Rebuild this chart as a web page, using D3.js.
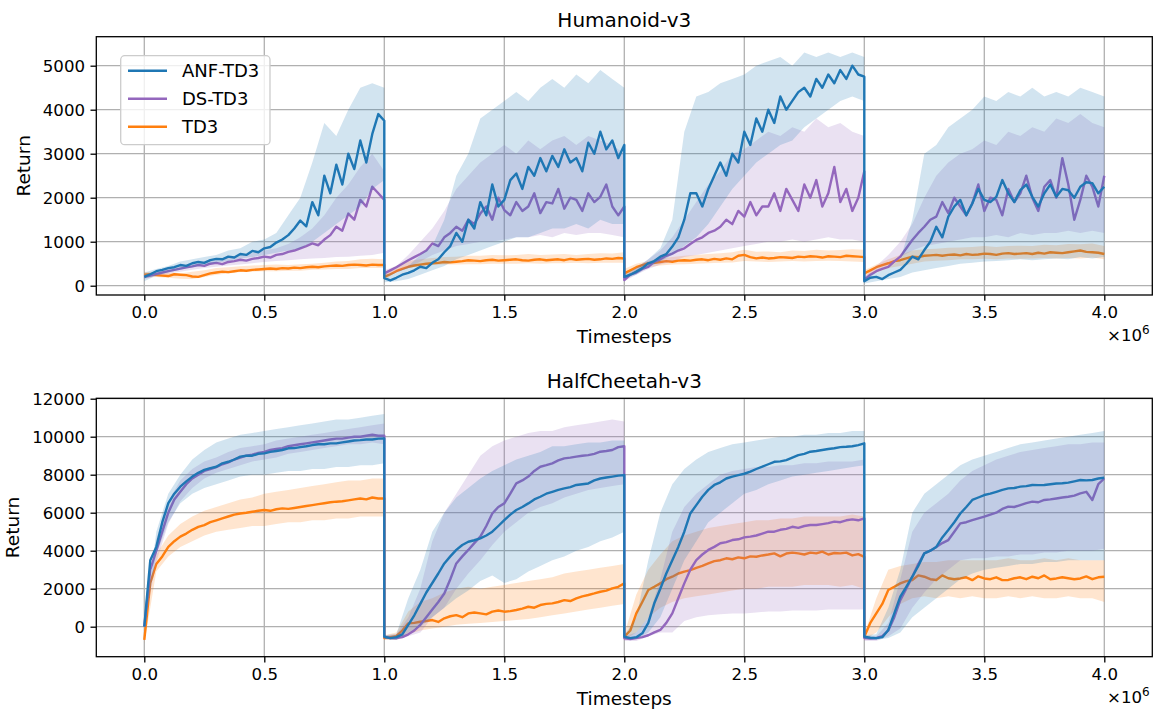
<!DOCTYPE html>
<html>
<head>
<meta charset="utf-8">
<script src="https://cdn.jsdelivr.net/npm/d3@7"></script>
<style>
  body { margin: 0; background: #fff; }
  svg text { font-family: "DejaVu Sans", sans-serif; fill: #000; }
</style>
</head>
<body>
<svg id="canvas"></svg>
<script>
const WIDTH = 1153, HEIGHT = 709;

// x runs k .. k+1 inside each of the 4 segments (units of 1e6 timesteps)
const segments = [0, 1, 2, 3];
const xTicks = [0, 0.5, 1, 1.5, 2, 2.5, 3, 3.5, 4];
const legendNames = ['ANF-TD3', 'DS-TD3', 'TD3'];
const colors = ['#1f77b4', '#9467bd', '#ff7f0e'];

// ---- Humanoid-v3 (means: 41 pts per segment, bands: 21 pts per segment)
const humTicks = [0, 1000, 2000, 3000, 4000, 5000];
const humANF = [
	[200,260,330,360,400,420,470,450,510,540,520,580,610,600,660,640,720,700,790,760,850,880,980,1050,1150,1300,1480,1350,1900,1600,2500,2100,2750,2300,3000,2650,3300,2800,3450,3900,3750],
	[170,120,180,250,290,350,430,400,520,600,760,900,1200,1000,1500,1300,1900,1600,2300,1800,1950,2400,2550,2200,2700,2500,2900,2600,2950,2700,3100,2800,2900,2600,3250,3000,3500,3100,3300,2900,3200],
	[200,250,320,400,510,560,660,720,890,1100,1500,2100,2100,1800,2200,2500,2800,2500,3000,2800,3500,3200,3800,3500,4000,3700,4300,4000,4200,4400,4500,4300,4700,4500,4800,4600,4900,4700,5000,4800,4750],
	[100,180,200,150,240,300,360,500,660,600,810,1000,1340,1100,1570,1800,1950,1600,1870,2200,1950,1900,2020,2400,2100,1900,2170,2300,2020,1800,2100,2300,2020,2200,2170,2000,2250,2350,2330,2100,2250]
];
const humDS = [
	[200,230,270,300,330,360,390,420,440,470,450,500,520,490,540,560,590,570,610,630,660,640,700,720,770,800,850,900,960,920,1050,1150,1340,1250,1640,1500,1950,1800,2250,2100,1950],
	[280,350,420,500,580,650,720,800,960,900,1100,1200,1340,1250,1500,1400,1640,1800,1500,2000,1720,1600,1900,1700,1800,2100,1650,1900,1870,2200,1750,2000,1950,1700,2100,1900,2020,2300,1800,1600,1800],
	[130,250,300,380,430,550,600,680,730,800,850,950,1040,1100,1200,1250,1340,1500,1400,1700,1570,1900,1600,1800,1800,2100,1700,2200,1950,1700,2300,2000,2400,1800,2100,2700,1900,2200,1700,2000,2600],
	[130,250,330,380,430,550,660,850,1040,1200,1340,1500,1570,1900,1650,2000,1800,1600,1870,2300,1700,2000,1950,1600,2200,1900,2100,2500,2000,1700,2250,2400,2000,2900,2300,1500,1950,2500,2250,1800,2500]
];
const humTD3 = [
	[250,260,240,230,220,260,250,240,210,200,240,280,300,320,310,330,350,340,360,370,380,390,380,400,390,410,400,420,430,420,440,450,460,450,470,480,470,460,480,470,470],
	[200,260,330,380,430,460,480,500,510,520,540,530,545,560,580,570,560,580,590,570,580,590,600,580,570,590,600,580,590,600,580,610,590,600,610,590,600,620,610,630,620],
	[280,350,420,470,510,520,540,560,545,570,580,570,590,600,580,610,590,620,600,680,700,650,620,640,620,630,650,640,630,660,650,670,660,640,670,660,650,680,670,660,650],
	[280,350,420,470,510,560,580,620,660,650,680,690,700,680,700,710,690,720,700,710,730,720,700,730,740,720,730,740,720,750,730,760,750,740,760,780,800,770,760,750,720]
];
const humANFLo = [
	[100,230,300,360,420,470,520,560,620,650,700,750,800,850,1000,1200,1400,1600,1800,2200,2400],
	[80,100,150,250,350,450,600,700,800,900,1000,1100,1100,1200,1300,1300,1400,1300,1500,1400,1400],
	[150,250,420,550,700,900,1100,1400,1800,2200,2500,2800,3000,3200,3300,3600,3800,4000,4200,4300,4200],
	[50,100,150,200,300,350,400,450,500,520,550,560,580,600,580,600,620,600,650,620,650]
];
const humANFHi = [
	[300,380,450,550,600,650,700,800,850,1000,1050,1200,1600,2000,2800,3700,3400,4000,4500,4600,4500],
	[250,300,450,700,900,1500,2500,3000,3800,4000,4200,4400,4200,4500,4700,4500,4800,4600,4900,4700,4500],
	[250,400,600,850,1500,3500,4300,4400,4600,4700,4800,5000,5100,5200,5000,5300,5200,5300,5200,5300,5200],
	[200,300,400,600,1500,3000,3200,3600,3800,4000,4300,4200,4400,4300,4500,4300,4400,4300,4500,4400,4300]
];
const humDSLo = [
	[150,220,270,320,360,400,430,460,480,510,540,560,580,600,620,630,650,660,680,700,750],
	[200,300,400,550,700,800,900,950,1000,1000,1050,1100,1100,1150,1100,1200,1150,1200,1200,1150,1100],
	[100,250,380,480,550,650,700,750,800,850,900,950,1000,1000,1050,1000,1050,1100,1050,1050,1000],
	[80,300,450,650,800,900,950,1000,1050,1100,1100,1150,1100,1200,1150,1200,1200,1250,1200,1250,1200]
];
const humDSHi = [
	[250,330,380,450,500,560,600,640,700,740,800,850,950,1100,1300,1600,2000,2300,2700,3000,2600],
	[350,450,700,1000,1300,1700,2200,2500,2800,3000,3200,3000,3300,3100,3300,3400,3200,3400,3300,3200,3000],
	[200,400,600,800,1100,1500,1900,2300,2600,3000,3100,3300,3500,3400,3600,3500,3800,3600,3700,3500,3400],
	[200,450,700,1000,1400,2000,2500,2800,3000,3100,3300,3200,3500,3400,3600,3500,3800,3700,3900,3700,3600]
];
const humTD3Lo = [
	[180,200,180,160,150,200,250,280,310,320,330,330,340,340,360,370,380,380,400,400,400],
	[120,320,400,450,470,480,480,490,490,500,500,500,510,500,510,510,520,510,520,520,520],
	[200,320,420,460,480,490,500,510,520,530,560,550,540,550,560,550,560,570,560,550,540],
	[200,300,400,450,500,550,570,580,600,600,610,600,620,610,620,630,620,630,620,640,600]
];
const humTD3Hi = [
	[320,300,300,280,320,350,400,420,440,460,470,480,470,490,500,520,550,560,600,610,600],
	[300,450,560,600,630,650,660,680,680,700,690,700,720,700,710,720,700,720,740,730,760],
	[380,500,560,620,650,680,700,720,740,760,820,770,780,760,800,790,820,800,810,830,820],
	[350,480,600,700,800,830,840,860,870,880,900,880,900,910,900,930,920,950,940,960,900]
];

// ---- HalfCheetah-v3
const hcTicks = [0, 2000, 4000, 6000, 8000, 10000, 12000];
const hcANF = [
	[0,3500,4200,5500,6500,7000,7370,7650,7900,8100,8250,8350,8420,8600,8680,8800,8950,9000,9000,9100,9120,9200,9250,9300,9390,9400,9450,9500,9560,9600,9600,9650,9650,9700,9750,9800,9820,9850,9850,9900,9910],
	[-530,-600,-550,-400,100,600,1200,1800,2300,2800,3330,3700,4040,4300,4470,4550,4650,4800,5000,5300,5610,5900,6140,6300,6490,6700,6840,7000,7100,7200,7280,7350,7460,7500,7540,7700,7800,7850,7900,7950,7980],
	[-530,-600,-550,-350,200,1230,2000,2800,3500,4200,5000,5960,6400,6840,7200,7460,7600,7800,7900,7980,8050,8160,8300,8420,8550,8680,8700,8770,8900,9030,9100,9210,9250,9300,9350,9390,9450,9470,9500,9560,9650],
	[-530,-580,-600,-550,-170,700,1580,2100,2630,3200,3860,4000,4200,4700,5090,5500,5960,6300,6670,6800,6930,7000,7100,7200,7280,7300,7370,7400,7460,7450,7460,7500,7540,7550,7580,7650,7720,7700,7720,7800,7840]
];
const hcDS = [
	[0,3000,4000,5000,6000,6700,7100,7500,7800,8000,8200,8300,8400,8550,8650,8800,8900,9000,9050,9150,9200,9300,9350,9400,9500,9550,9600,9650,9700,9750,9800,9850,9900,9900,9950,10000,10000,10050,10100,10050,10050],
	[-530,-600,-600,-550,-400,-200,100,500,900,1300,1750,2500,3330,3700,4040,4400,4740,5300,5960,6300,6490,7000,7540,7700,7900,8200,8420,8500,8600,8750,8860,8900,8950,9000,9030,9100,9210,9250,9300,9450,9500],
	[-610,-650,-600,-550,-450,-300,-170,200,700,1500,2280,3000,3510,3800,4040,4200,4390,4450,4560,4600,4700,4740,4800,4900,5000,5000,5100,5150,5260,5200,5300,5350,5350,5400,5450,5530,5500,5600,5650,5600,5700],
	[-600,-620,-600,-500,-200,500,1400,2000,2630,3300,3860,4000,4200,4400,4560,5000,5440,5500,5610,5700,5790,5900,6000,6200,6320,6300,6400,6500,6580,6550,6670,6700,6750,6800,6840,6900,7020,7100,6670,7500,7800]
];
const hcTD3 = [
	[-700,2300,3300,3700,4200,4500,4740,4900,5100,5250,5350,5500,5600,5700,5800,5900,5960,6000,6050,6100,6140,6100,6180,6230,6200,6250,6300,6350,6400,6450,6500,6550,6580,6600,6650,6700,6750,6700,6800,6750,6750],
	[-600,-550,-500,-200,175,200,260,300,350,250,440,550,610,500,700,750,700,650,790,850,790,820,880,950,1050,1000,1140,1200,1230,1300,1400,1350,1490,1600,1670,1750,1840,1900,2020,2100,2280],
	[-530,-200,700,1300,1930,2100,2280,2500,2630,2800,2900,2980,3100,3200,3330,3450,3500,3600,3550,3650,3600,3700,3680,3750,3800,3860,3700,3850,3900,3860,3800,3900,3860,3950,3800,3880,3860,3900,3750,3820,3680],
	[-530,200,700,1200,1930,2100,2280,2400,2460,2700,2630,2500,2460,2700,2550,2500,2540,2600,2450,2650,2540,2500,2600,2450,2460,2550,2600,2500,2630,2550,2700,2500,2540,2600,2550,2500,2540,2650,2500,2600,2630]
];
const hcANFLo = [
	[0,3800,5500,6500,7000,7300,7500,7700,7900,8000,8000,8100,8200,8200,8300,8300,8400,8400,8500,8500,8600],
	[-650,-700,-300,0,500,1000,1500,1900,2400,2700,2300,2500,2900,3200,3500,3700,4000,4200,4500,4700,5000],
	[-650,-650,-300,500,2000,3500,4500,5500,6000,6500,7000,7200,7500,7700,7900,8000,8100,8200,8300,8400,8500],
	[-650,-700,-600,-300,500,1000,1500,2000,2500,2800,3000,3100,3200,3300,3300,3400,3400,3500,3500,3500,3500]
];
const hcANFHi = [
	[0,5000,7000,8000,8800,9300,9700,9900,10100,10200,10300,10400,10500,10600,10700,10800,10900,10900,11000,11100,11200],
	[-450,-400,1500,3000,5000,6000,6800,7300,7800,8200,8500,8800,9000,9200,9500,9500,9600,9700,9700,9800,9800],
	[-450,500,3500,6000,7500,8300,8800,9200,9400,9600,9700,9800,9900,10000,10000,10100,10100,10200,10200,10300,10300],
	[-450,-400,1000,3000,6000,7000,7500,8000,8500,8800,9000,9200,9400,9600,9700,9800,9900,10000,10100,10200,10300]
];
const hcDSLo = [
	[0,3400,5400,6600,7300,7800,8100,8300,8500,8700,8800,8900,9100,9200,9300,9400,9500,9600,9600,9700,9600],
	[-650,-700,-500,-300,500,1000,2000,2800,3500,4300,5000,5500,6000,6300,6500,6800,7000,7200,7300,7400,7500],
	[-750,-750,-500,-300,-300,300,500,600,650,700,700,750,800,800,850,850,850,900,900,900,900],
	[-750,-750,-500,-100,1000,1800,2500,3000,3500,3600,3600,3700,3700,3800,3800,3900,3900,4000,4000,4000,4100]
];
const hcDSHi = [
	[0,4600,6600,7700,8300,8700,8900,9200,9400,9500,9600,9800,9900,10000,10100,10200,10300,10400,10500,10600,10700],
	[-450,-400,500,2000,4500,6000,7000,8000,9000,9500,9800,10000,10200,10300,10300,10500,10600,10700,10800,10900,10800],
	[-500,-300,500,2500,5000,6300,7000,7500,8000,8200,8300,8400,8400,8500,8500,8600,8600,8700,8700,8700,8800],
	[-500,-500,200,2500,5000,6000,6500,7000,7700,8200,8500,8800,9000,9200,9300,9400,9500,9600,9600,9700,9700]
];
const hcTD3Lo = [
	[-900,2900,3700,4200,4500,4800,5000,5100,5200,5300,5300,5400,5500,5500,5600,5600,5700,5700,5800,5800,5800],
	[-700,-700,-400,-200,-100,0,100,150,200,250,300,350,400,500,600,700,800,900,1000,1100,1200],
	[-700,-300,500,1000,1300,1500,1600,1700,1800,1900,2000,2000,2100,2100,2100,2200,2200,2200,2100,2200,2000],
	[-700,-300,500,1200,1500,1600,1500,1600,1500,1600,1500,1500,1600,1500,1600,1500,1500,1600,1500,1500,1300]
];
const hcTD3Hi = [
	[-500,3800,4800,5400,5800,6100,6300,6500,6700,6800,7000,7100,7200,7300,7400,7500,7600,7700,7700,7800,7800],
	[-450,-300,800,1300,1500,1800,2000,2100,2000,2100,2200,2300,2400,2500,2600,2800,2900,3000,3100,3200,3300],
	[-400,1700,3000,3800,4500,4800,5000,5200,5300,5400,5500,5600,5600,5700,5700,5800,5800,5800,5800,5900,5800],
	[-400,1500,3000,3200,3300,3400,3400,3500,3500,3500,3500,3500,3600,3500,3500,3600,3500,3600,3500,3500,3500]
];

// flatten per-segment arrays into {x, v} points
function linePoints(segs) {
	const pts = [];
	segs.forEach((arr, s) => arr.forEach((v, i) => pts.push({ x: segments[s] + i / (arr.length - 1), v })));
	return pts;
}
function bandPoints(lo, hi) {
	const pts = [];
	lo.forEach((arr, s) => arr.forEach((v, i) => pts.push({ x: segments[s] + i / (arr.length - 1), lo: v, hi: hi[s][i] })));
	return pts;
}

const svg = d3.select('svg#canvas')
	.attr('width', WIDTH)
	.attr('height', HEIGHT);

const x = d3.scaleLinear().domain([-0.2, 4.2]);

function drawPanel(cfg) {
	const { top, bottom, left, right } = cfg;
	x.range([left, right]);
	const y = d3.scaleLinear().domain(cfg.yDomain).range([bottom, top]);
	const g = svg.append('g');
	const clipId = 'clip' + cfg.id;

	g.append('clipPath').attr('id', clipId)
		.append('rect').attr('x', left).attr('y', top).attr('width', right - left).attr('height', bottom - top);

	// grid
	g.append('g').selectAll('line.vg').data(xTicks).join('line')
		.attr('x1', d => x(d)).attr('x2', d => x(d))
		.attr('y1', top).attr('y2', bottom)
		.attr('stroke', '#b0b0b0').attr('stroke-width', 1.3);
	g.append('g').selectAll('line.hg').data(cfg.yTicks).join('line')
		.attr('x1', left).attr('x2', right)
		.attr('y1', d => y(d)).attr('y2', d => y(d))
		.attr('stroke', '#b0b0b0').attr('stroke-width', 1.3);

	const plot = g.append('g').attr('clip-path', `url(#${clipId})`);
	const area = d3.area().x(d => x(d.x)).y0(d => y(d.lo)).y1(d => y(d.hi));
	const line = d3.line().x(d => x(d.x)).y(d => y(d.v));

	// TD3 first, ANF last (on top)
	cfg.series.slice().reverse().forEach(s => {
		plot.append('path').datum(bandPoints(s.lo, s.hi))
			.attr('d', area).attr('fill', s.color).attr('fill-opacity', 0.2);
		plot.append('path').datum(linePoints(s.mean))
			.attr('d', line).attr('fill', 'none').attr('stroke', s.color)
			.attr('stroke-width', 2.4).attr('stroke-linejoin', 'round');
	});

	// axes
	const xAxis = d3.axisBottom(x).tickValues(xTicks).tickFormat(d3.format('.1f')).tickSizeOuter(0).tickSize(5.8).tickPadding(5.5);
	const yAxis = d3.axisLeft(y).tickValues(cfg.yTicks).tickFormat(d => d).tickSizeOuter(0).tickSize(5.8).tickPadding(5.5);
	const xg = g.append('g').attr('transform', `translate(0,${bottom})`).call(xAxis);
	const yg = g.append('g').attr('transform', `translate(${left},0)`).call(yAxis);
	[xg, yg].forEach(a => {
		a.select('.domain').remove();
		a.selectAll('.tick line').attr('stroke', '#000').attr('stroke-width', 1.3);
		a.selectAll('.tick text').attr('font-size', 16.6).attr('font-family', 'DejaVu Sans').attr('fill', '#000');
	});

	g.append('rect').attr('x', left).attr('y', top).attr('width', right - left).attr('height', bottom - top)
		.attr('fill', 'none').attr('stroke', '#000').attr('stroke-width', 1.3);

	g.append('text').attr('x', (left + right) / 2).attr('y', top - 10)
		.attr('text-anchor', 'middle').attr('font-size', 20).text(cfg.title);
	g.append('text').attr('x', (left + right) / 2).attr('y', bottom + 48)
		.attr('text-anchor', 'middle').attr('font-size', 18.5).text('Timesteps');
	g.append('text').attr('transform', `translate(${cfg.ylabelX},${(top + bottom) / 2}) rotate(-90)`)
		.attr('text-anchor', 'middle').attr('font-size', 18.5).text('Return');
	const off = g.append('text').attr('x', 1107).attr('y', bottom + 46).attr('font-size', 16.6);
	off.append('tspan').text('×10');
	off.append('tspan').attr('dy', -7).attr('font-size', 12).text('6');

	return g;
}

const humSeries = [
	{ color: colors[0], mean: humANF, lo: humANFLo, hi: humANFHi },
	{ color: colors[1], mean: humDS, lo: humDSLo, hi: humDSHi },
	{ color: colors[2], mean: humTD3, lo: humTD3Lo, hi: humTD3Hi }
];
const hcSeries = [
	{ color: colors[0], mean: hcANF, lo: hcANFLo, hi: hcANFHi },
	{ color: colors[1], mean: hcDS, lo: hcDSLo, hi: hcDSHi },
	{ color: colors[2], mean: hcTD3, lo: hcTD3Lo, hi: hcTD3Hi }
];

const topPanel = drawPanel({
	id: 'hum', title: 'Humanoid-v3', top: 36.7, bottom: 295, left: 96.3, right: 1152.3,
	yDomain: [-211, 5659], yTicks: humTicks, series: humSeries, ylabelX: 30
});
drawPanel({
	id: 'hc', title: 'HalfCheetah-v3', top: 398.3, bottom: 656.7, left: 96.3, right: 1152.3,
	yDomain: [-1579, 12021], yTicks: hcTicks, series: hcSeries, ylabelX: 19
});

// legend (top panel)
const legend = topPanel.append('g');
legend.append('rect').attr('x', 120.7).attr('y', 55.7).attr('width', 149.3).attr('height', 89)
	.attr('rx', 4).attr('fill', '#fff').attr('fill-opacity', 0.8).attr('stroke', '#cccccc').attr('stroke-width', 1.3);
const item = legend.selectAll('g.item').data(legendNames).join('g')
	.attr('transform', (d, i) => `translate(0,${70.7 + i * 28})`);
item.append('line').attr('x1', 128).attr('x2', 167).attr('y1', 0).attr('y2', 0)
	.attr('stroke', (d, i) => colors[i]).attr('stroke-width', 2.4);
item.append('text').attr('x', 182).attr('y', 6.5).attr('font-size', 18).text(d => d);
</script>
</body>
</html>
